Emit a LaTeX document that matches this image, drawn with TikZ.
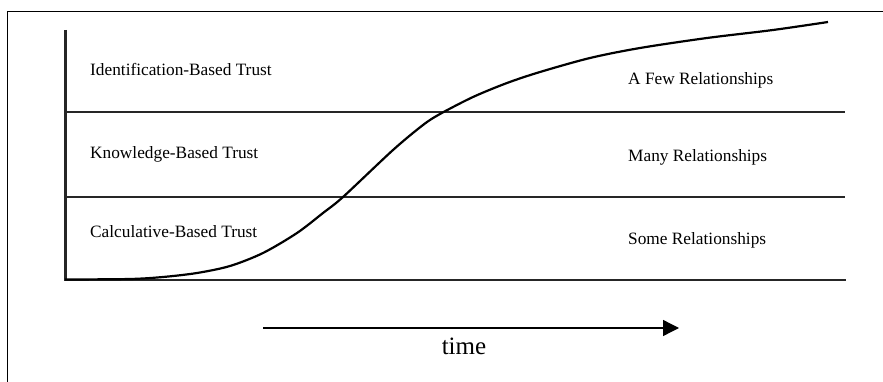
\documentclass[tikz,border=0pt]{standalone}
\usepackage{fontspec}
\setmainfont{Liberation Serif}
\usetikzlibrary{arrows.meta}
\begin{document}
\begin{tikzpicture}[x=1pt,y=-1pt,
  lbl/.style={font=\fontsize{17.3}{20}\selectfont, anchor=base west, inner sep=0pt},
  frameline/.style={line width=1pt},
  divider/.style={line width=1.4pt, draw=black!85},
  axisline/.style={line width=2.2pt, draw=black!85},
  curveline/.style={line width=2.2pt}]
\useasboundingbox (0,0) rectangle (883,382);
% frame
\coordinate (f1) at (883,12);
\coordinate (f2) at (7,12);
\coordinate (f3) at (7,382);
\draw[frameline] (f1) -- (f2) -- (f3);
% axes
\coordinate (ytop) at (65.5,30);
\coordinate (orig) at (65.5,280);
\coordinate (xend) at (846,280);
\draw[axisline] (ytop) -- (orig) -- (xend);
% dividers
\coordinate (d1a) at (65.5,112);
\coordinate (d1b) at (845,112);
\coordinate (d2a) at (65.5,197);
\coordinate (d2b) at (845,197);
\draw[divider] (d1a) -- (d1b);
\draw[divider] (d2a) -- (d2b);
% curve
\draw[curveline] plot[smooth, tension=0.5] coordinates {(65,279.5) (130,279) (163,277) (197,273) (230,266) (263,253) (297,233) (323,213) (343,197) (393,150) (423,125) (440,114) (473,97) (507,83) (540,72) (590,58) (640,48) (707,38) (773,30) (828,22)};
% labels
\node[lbl] (idt) at (90,76) {Identification-Based Trust};
\node[lbl] (kbt) at (90,159) {Knowledge-Based Trust};
\node[lbl] (cbt) at (90,237) {Calculative-Based Trust};
\node[lbl] (afr) at (628,85) {A Few Relationships};
\node[lbl] (mr) at (628,162) {Many Relationships};
\node[lbl] (sr) at (628,244) {Some Relationships};
% time arrow
\coordinate (ta) at (263,328);
\coordinate (tb) at (679,328);
\draw[line width=1.3pt, -{Triangle[length=16pt,width=16pt]}] (ta) -- (tb);
\node[font=\fontsize{25}{28}\selectfont, anchor=base, inner sep=0pt] (time) at (464,354) {time};
\end{tikzpicture}
\end{document}
